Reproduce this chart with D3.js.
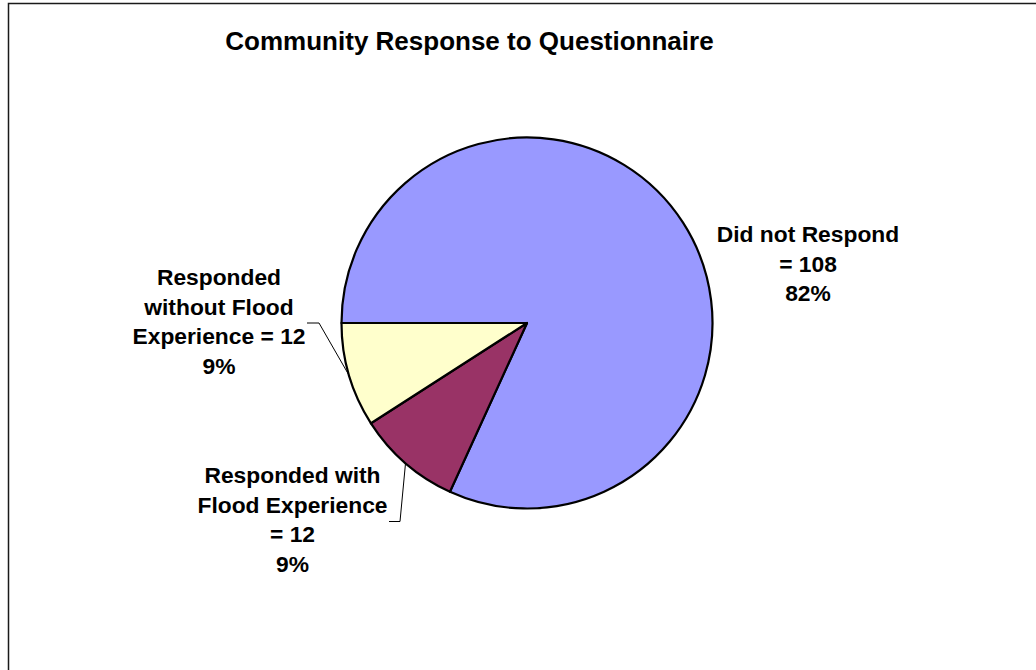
<!DOCTYPE html>
<html>
<head>
<meta charset="utf-8">
<script src="https://cdn.jsdelivr.net/npm/d3@7"></script>
<style>
  html, body { margin: 0; padding: 0; background: #fff; }
  svg { display: block; }
</style>
</head>
<body>
<div id="chart"></div>
<script>
// data
var categories = ['Did not Respond', 'Responded with Flood Experience', 'Responded without Flood Experience'];
var counts = [108, 12, 12];
var colors = ['#9999FF', '#993366', '#FFFFCC'];
// label text as it wraps in the original (percent line added below)
var labelLines = [
    ['Did not Respond', '= 108'],
    ['Responded with', 'Flood Experience', '= 12'],
    ['Responded', 'without Flood', 'Experience = 12']
];

var width = 1036, height = 670;
var cx = 527, cy = 323, r = 185.5;
var font = '"Liberation Sans", Arial, sans-serif';

// label layout (first baseline), leader line elbows
var labelPos = [
    {x: 808, y: 242},
    {x: 292.5, y: 483},
    {x: 219, y: 285}
];
var leaders = [
    null,
    [[389, 521.5], [400, 521.5]],
    [[307, 323], [319, 323]]
];
var lineH = 29.5;

var svg = d3.select('#chart')
    .append('svg')
    .attr('width', width)
    .attr('height', height);

svg.append('rect')
    .attr('width', width)
    .attr('height', height)
    .style('fill', '#fff');

// chart border (runs off the right / bottom edge)
svg.append('rect')
    .attr('x', 8.5)
    .attr('y', 3.5)
    .attr('width', width + 20)
    .attr('height', height + 20)
    .style('fill', 'none')
    .style('stroke', '#1a1a1a')
    .style('stroke-width', 1.5);

svg.append('text')
    .attr('x', 469.5)
    .attr('y', 50)
    .attr('text-anchor', 'middle')
    .style('font-family', font)
    .style('font-weight', 'bold')
    .style('font-size', '26px')
    .text('Community Response to Questionnaire');

var total = d3.sum(counts);
var pct = d3.format('.0%');

var data = categories.map(function(c, i) {
    return {name: c, value: counts[i], color: colors[i], lines: labelLines[i].concat([pct(counts[i] / total)])};
});

// Excel starts the first slice at 9 o'clock here and runs clockwise
var pie = d3.pie()
    .sort(null)
    .value(function(d) { return d.value; })
    .startAngle(-Math.PI / 2)
    .endAngle(Math.PI * 1.5);

var arc = d3.arc().innerRadius(0).outerRadius(r);
var edge = d3.arc().innerRadius(r).outerRadius(r);

var arcs = pie(data);

var g = svg.append('g')
    .attr('transform', 'translate(' + cx + ',' + cy + ')');

g.selectAll('.slice')
    .data(arcs)
    .enter()
    .append('path')
    .attr('class', 'slice')
    .attr('d', arc)
    .style('fill', function(d) { return d.data.color; })
    .style('stroke', '#000')
    .style('stroke-width', 2.2)
    .style('stroke-linejoin', 'round');

// leader lines
arcs.forEach(function(d, i) {
    if (!leaders[i]) return;
    var c = edge.centroid(d);
    var pts = leaders[i].concat([[cx + c[0], cy + c[1]]]);
    svg.append('polyline')
        .attr('points', pts.map(function(p) { return p.join(','); }).join(' '))
        .style('fill', 'none')
        .style('stroke', '#000')
        .style('stroke-width', 1);
});

// labels
svg.selectAll('.lbl')
    .data(arcs)
    .enter()
    .append('text')
    .attr('class', 'lbl')
    .attr('text-anchor', 'middle')
    .style('font-family', font)
    .style('font-weight', 'bold')
    .style('font-size', '22.8px')
    .each(function(d, i) {
        var t = d3.select(this);
        d.data.lines.forEach(function(line, j) {
            t.append('tspan')
                .attr('x', labelPos[i].x)
                .attr('y', labelPos[i].y + j * lineH)
                .text(line);
        });
    });
</script>
</body>
</html>
